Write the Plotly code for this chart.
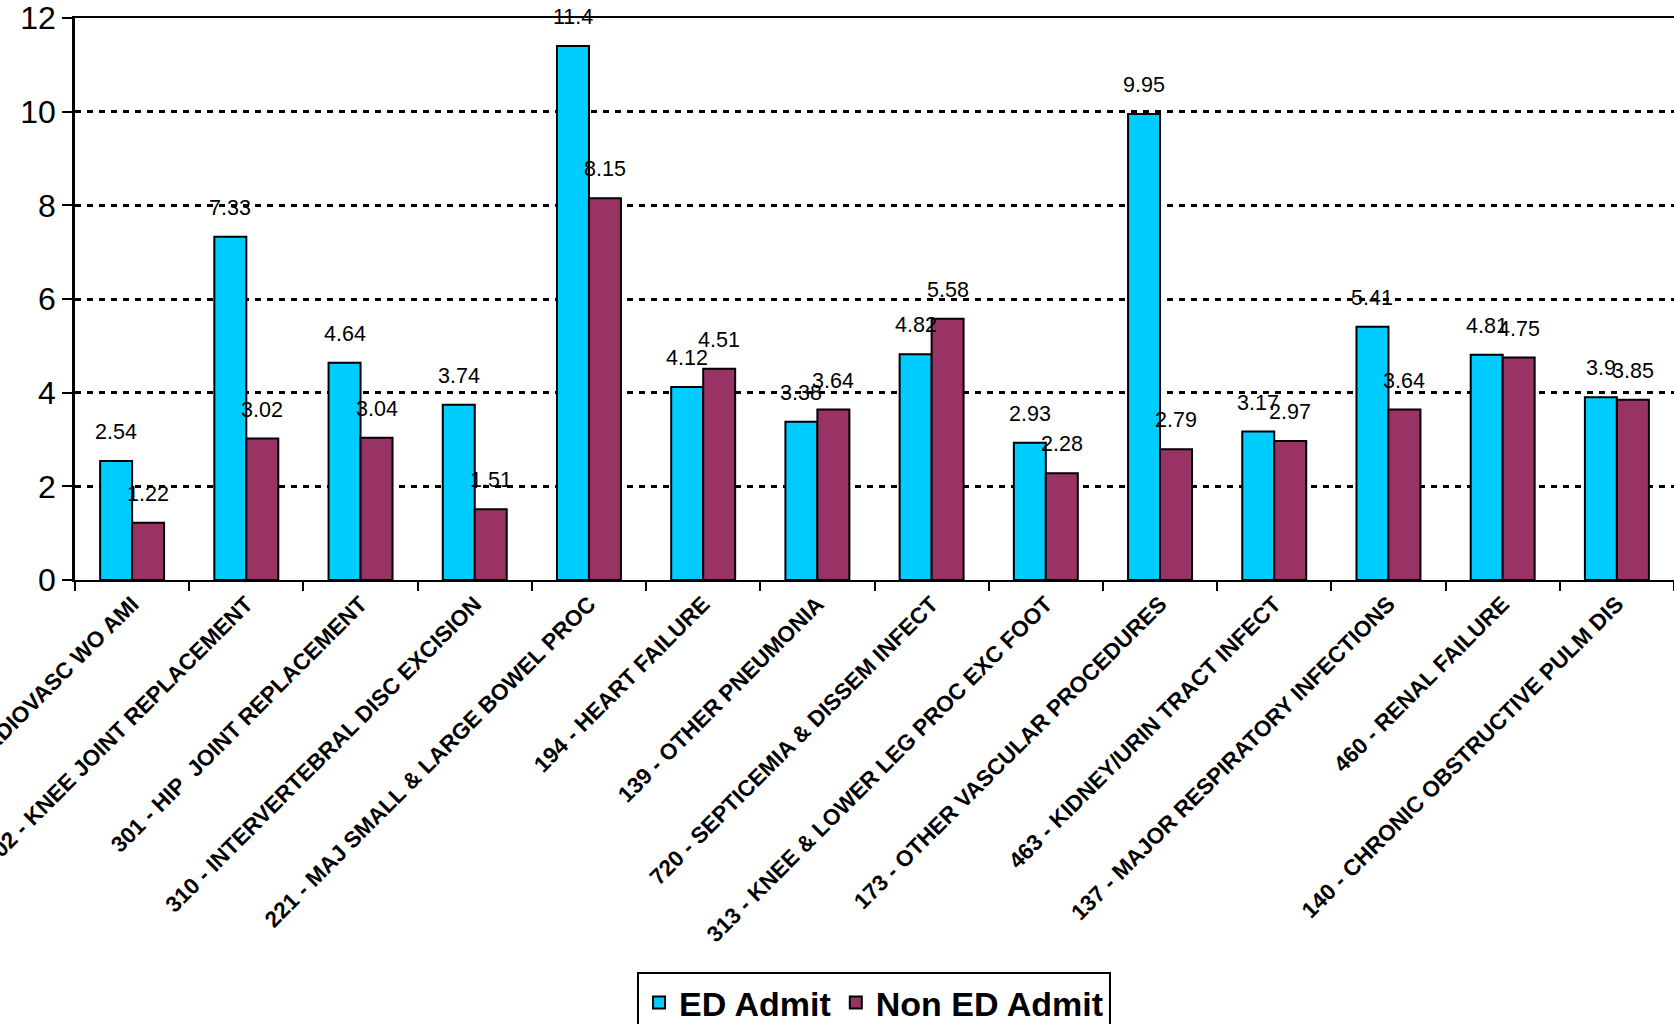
import plotly.graph_objects as go

# Average length of stay by DRG, ED admissions vs. non-ED admissions
categories = [
    "175 - PERCUTANEOUS CARDIOVASC WO AMI",
    "302 - KNEE JOINT REPLACEMENT",
    "301 - HIP  JOINT REPLACEMENT",
    "310 - INTERVERTEBRAL DISC EXCISION",
    "221 - MAJ SMALL & LARGE BOWEL PROC",
    "194 - HEART FAILURE",
    "139 - OTHER PNEUMONIA",
    "720 - SEPTICEMIA & DISSEM INFECT",
    "313 - KNEE & LOWER LEG PROC EXC FOOT",
    "173 - OTHER VASCULAR PROCEDURES",
    "463 - KIDNEY/URIN TRACT INFECT",
    "137 - MAJOR RESPIRATORY INFECTIONS",
    "460 - RENAL FAILURE",
    "140 - CHRONIC OBSTRUCTIVE PULM DIS",
]
ed_admit = [2.54, 7.33, 4.64, 3.74, 11.4, 4.12, 3.38, 4.82, 2.93, 9.95, 3.17, 5.41, 4.81, 3.9]
non_ed_admit = [1.22, 3.02, 3.04, 1.51, 8.15, 4.51, 3.64, 5.58, 2.28, 2.79, 2.97, 3.64, 4.75, 3.85]
y_ticks = [0, 2, 4, 6, 8, 10, 12]

FONT = "Liberation Sans, Arial, sans-serif"
CYAN = "#00CCFF"
MAROON = "#993366"

fig = go.Figure()
fig.add_trace(go.Bar(
    name="ED Admit", x=categories, y=ed_admit,
    marker=dict(color=CYAN, line=dict(color="black", width=2)),
))
fig.add_trace(go.Bar(
    name="Non ED Admit", x=categories, y=non_ed_admit,
    marker=dict(color=MAROON, line=dict(color="black", width=2)),
))

# value labels floating above each bar
annotations = []
for series, shift in ((ed_admit, -16), (non_ed_admit, 16)):
    for cat, val in zip(categories, series):
        annotations.append(dict(
            x=cat, y=val, xref="x", yref="y",
            text=f"{val:g}", showarrow=False,
            xshift=shift, yshift=29, yanchor="middle",
            font=dict(family=FONT, size=21.5, color="black"),
        ))

fig.update_layout(
    width=1674, height=1024,
    margin=dict(l=75, r=0, t=18, b=444),
    paper_bgcolor="white", plot_bgcolor="white",
    barmode="group", bargap=0.44, bargroupgap=0,
    font=dict(family=FONT, color="black"),
    annotations=annotations,
    showlegend=True,
    legend=dict(
        orientation="h", xref="paper", yref="container",
        x=0.3515, y=0.0508, xanchor="left", yanchor="top",
        font=dict(family=FONT, size=34, color="black", weight="bold"),
        bordercolor="black", borderwidth=2, bgcolor="white",
        itemsizing="constant",
    ),
)
fig.update_xaxes(
    type="category", tickangle=-45,
    tickfont=dict(family=FONT, size=22.5, color="black", weight="bold"),
    showline=True, linecolor="black", linewidth=2, mirror=True,
    ticks="outside", tickson="boundaries", ticklen=9, tickwidth=2, tickcolor="black",
    showgrid=False, automargin=False,
)
fig.update_yaxes(
    range=[0, 12], tickvals=y_ticks,
    tickfont=dict(family=FONT, size=32, color="black"),
    showline=True, linecolor="black", linewidth=2.5,
    ticks="outside", ticklen=10, tickwidth=2, tickcolor="black",
    showgrid=True, gridcolor="black", gridwidth=2.6, griddash="6px,6px",
    zeroline=False, automargin=False,
)

fig.write_html("out.html")
